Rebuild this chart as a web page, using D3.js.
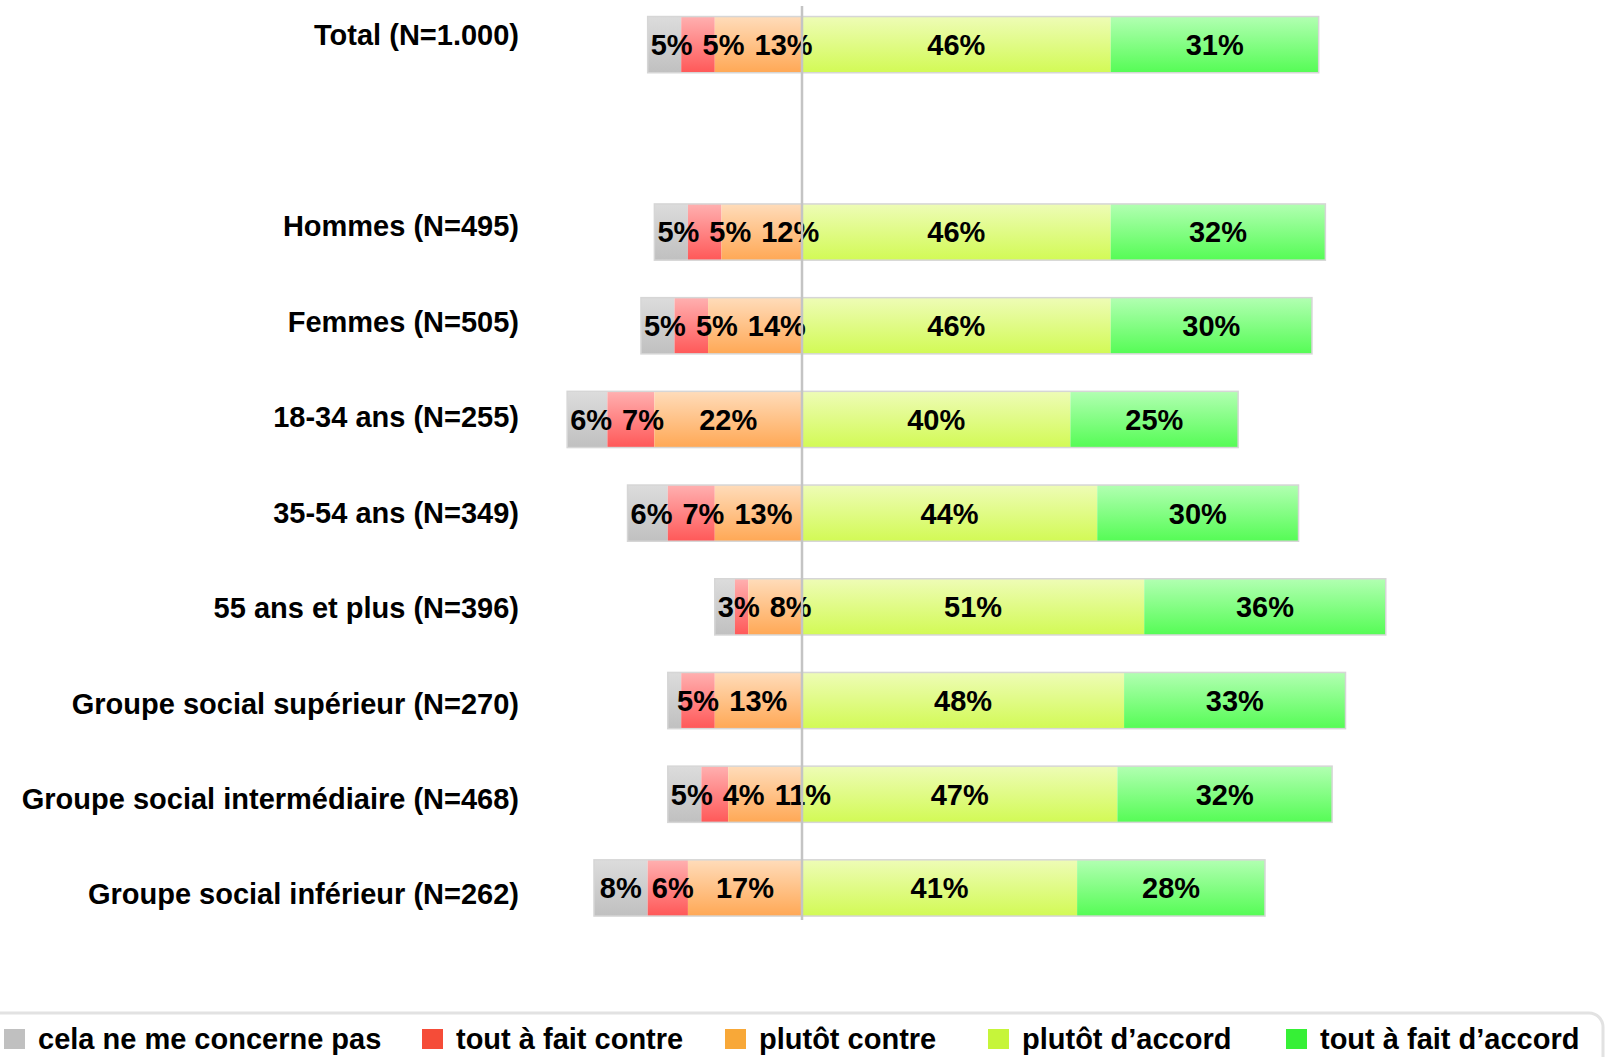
<!DOCTYPE html>
<html>
<head>
<meta charset="utf-8">
<script src="https://cdn.jsdelivr.net/npm/d3@7"></script>
<style>
  html, body { margin: 0; padding: 0; background: #fff; }
  svg { display: block; font-family: "Liberation Sans", Arial, sans-serif; font-weight: bold; }
</style>
</head>
<body>
<svg id="chart" width="1606" height="1057"></svg>
<script>
// Row labels (an empty slot separates the total from the breakdowns)
const categories = [
  "Total (N=1.000)",
  "",
  "Hommes (N=495)",
  "Femmes (N=505)",
  "18-34 ans (N=255)",
  "35-54 ans (N=349)",
  "55 ans et plus (N=396)",
  "Groupe social supérieur (N=270)",
  "Groupe social intermédiaire (N=468)",
  "Groupe social inférieur (N=262)"
];

const seriesNames = [
  "cela ne me concerne pas",
  "tout à fait contre",
  "plutôt contre",
  "plutôt d’accord",
  "tout à fait d’accord"
];

// Shares in % per row (null for the empty slot)
const nonConcerne   = [5, null, 5, 5, 6, 6, 3, 2, 5, 8];
const toutContre    = [5, null, 5, 5, 7, 7, 2, 5, 4, 6];
const plutotContre  = [13, null, 12, 14, 22, 13, 8, 13, 11, 17];
const plutotAccord  = [46, null, 46, 46, 40, 44, 51, 48, 47, 41];
const toutAccord    = [31, null, 32, 30, 25, 30, 36, 33, 32, 28];

const series = [nonConcerne, toutContre, plutotContre, plutotAccord, toutAccord];

// gradient stops (top, bottom) and legend swatch colour per series
const gradTop    = ["#dcdcdc", "#ffb0b0", "#ffdcba", "#eefcb6", "#b2ffb2"];
const gradBottom = ["#c0c0c0", "#ff5858", "#ffa855", "#d2fa55", "#55fc55"];
const swatch     = ["#c0c0c0", "#f54c38", "#f8a838", "#c6f53a", "#36f036"];

const svg = d3.select("#chart");
const defs = svg.append("defs");
gradTop.forEach((c, i) => {
  const g = defs.append("linearGradient")
    .attr("id", "grad" + i).attr("x1", 0).attr("y1", 0).attr("x2", 0).attr("y2", 1);
  g.append("stop").attr("offset", "0%").attr("stop-color", c);
  g.append("stop").attr("offset", "100%").attr("stop-color", gradBottom[i]);
});

const x = d3.scaleLinear().domain([-40, 100]).range([533.6, 1473]);
const y = d3.scaleBand().domain(d3.range(categories.length))
  .range([-2.2, 934.8]).paddingInner(0.4).paddingOuter(0.2);
const yLabel = d3.scalePoint().domain(d3.range(categories.length)).range([35, 894]);

const FS = 29;
const rowsG = svg.append("g");

// scratch text for measuring label widths
const measure = svg.append("text").attr("font-size", FS).attr("visibility", "hidden");
function textWidth(s) { measure.text(s); return measure.node().getComputedTextLength(); }

categories.forEach((cat, r) => {
  if (series[0][r] == null) return;
  const y0 = y(r), bh = y.bandwidth();
  const neg = [series[0][r], series[1][r], series[2][r]];
  const negTotal = d3.sum(neg);
  // segment extents in value space
  const segs = [];
  let start = -negTotal;
  neg.forEach((v, i) => { segs.push({ i, v, a: start, b: start + v }); start += v; });
  start = 0;
  [series[3][r], series[4][r]].forEach((v, k) => { segs.push({ i: 3 + k, v, a: start, b: start + v }); start += v; });

  const g = rowsG.append("g");
  g.selectAll("rect.seg").data(segs).join("rect")
    .attr("class", "seg")
    .attr("x", d => x(d.a)).attr("y", y0)
    .attr("width", d => x(d.b) - x(d.a)).attr("height", bh)
    .attr("fill", d => `url(#grad${d.i})`);
  g.append("rect")
    .attr("x", x(-negTotal)).attr("y", y0)
    .attr("width", x(start) - x(-negTotal)).attr("height", bh)
    .attr("fill", "none").attr("stroke", "#d6d6d6").attr("stroke-width", 1.5);

  // value labels: centred in segment, negative side pushed right to avoid overlaps
  let prevEnd = x(-negTotal) + 3 - 10;
  segs.forEach(d => {
    if (d.v < 3) return;
    const txt = d.v + "%";
    const w = textWidth(txt);
    const cx = (x(d.a) + x(d.b)) / 2;
    let sx = cx - w / 2;
    if (d.i < 3) { sx = Math.max(sx, prevEnd + 10); prevEnd = sx + w; }
    g.append("text")
      .attr("x", sx).attr("y", y0 + bh / 2)
      .attr("dy", "0.36em")
      .attr("font-size", FS).attr("fill", "#000")
      .text(txt);
  });

  svg.append("text")
    .attr("x", 519).attr("y", yLabel(r)).attr("dy", "0.36em")
    .attr("text-anchor", "end").attr("font-size", FS).attr("fill", "#000")
    .text(cat);
});

// zero reference line
svg.append("line")
  .attr("x1", x(0)).attr("x2", x(0)).attr("y1", 6).attr("y2", 920)
  .attr("stroke", "#c4c4c4").attr("stroke-width", 2.5);

// legend
svg.append("rect")
  .attr("x", -20).attr("y", 1013).attr("width", 1623).attr("height", 120).attr("rx", 14)
  .attr("fill", "none").attr("stroke", "#e2e2e2").attr("stroke-width", 3);

const legendX = [4, 422, 725, 988, 1286];
const lg = svg.append("g");
seriesNames.forEach((name, i) => {
  lg.append("rect").attr("x", legendX[i]).attr("y", 1029).attr("width", 21).attr("height", 20)
    .attr("fill", swatch[i]);
  lg.append("text").attr("x", legendX[i] + 34).attr("y", 1049)
    .attr("font-size", FS).attr("fill", "#000").text(name);
});
measure.remove();
</script>
</body>
</html>
